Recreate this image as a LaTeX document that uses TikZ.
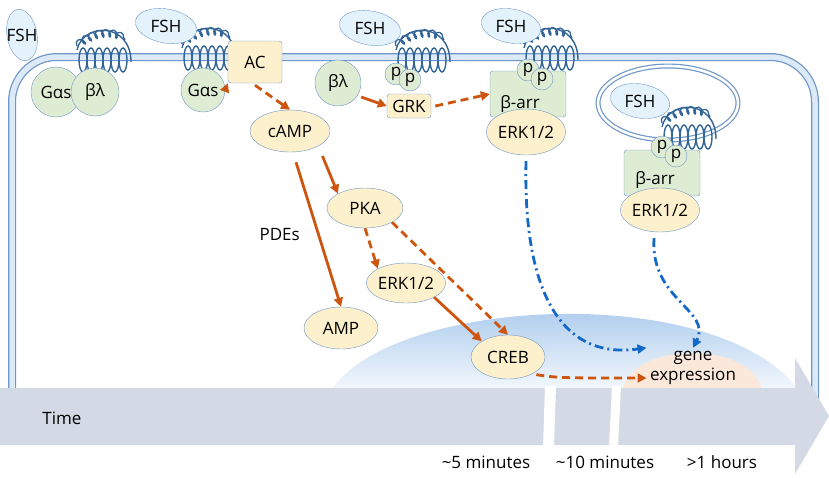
\documentclass[tikz,border=0pt]{standalone}
\usepackage{fontspec}
\setmainfont{Open Sans}
\usetikzlibrary{arrows.meta,decorations.pathmorphing,shapes.geometric}
\definecolor{memdark}{RGB}{110,150,200}
\definecolor{memlight}{RGB}{220,234,248}
\definecolor{recblue}{RGB}{50,100,150}
\definecolor{molfill}{RGB}{253,240,204}
\definecolor{grfill}{RGB}{222,236,212}
\definecolor{fshfill}{RGB}{228,242,252}
\definecolor{orng}{RGB}{205,85,15}
\definecolor{dblue}{RGB}{20,105,200}
\definecolor{timegray}{RGB}{211,218,229}
\definecolor{nucblue}{RGB}{150,190,232}
\definecolor{peach}{RGB}{252,232,218}

\begin{document}
\begin{tikzpicture}[x=1pt, y=-1pt,
    font=\fontsize{17}{20}\selectfont,
    mol/.style={ellipse, draw=memdark, fill=molfill, inner sep=0pt},
    box/.style={rectangle, rounded corners=3pt, draw=memdark, inner sep=0pt},
    grn/.style={circle, draw=memdark, fill=grfill, inner sep=0pt},
    fsh/.style={ellipse, draw=memdark, fill=fshfill, inner sep=0pt},
    arrow/.style={-{Triangle[length=9pt,width=9pt]}, orng, line width=2.8pt},
    darrow/.style={arrow, dash pattern=on 8pt off 5pt},
    barrow/.style={-{Triangle[length=9pt,width=9pt]}, dblue, line width=2.8pt, dash pattern=on 9pt off 4pt on 2pt off 4pt},
    receptor/.pic={
        \foreach \i in {0,...,5}
            \draw[recblue, line width=1.4pt] (-20+8*\i,12) ellipse [x radius=4, y radius=12];
        \draw[recblue, line width=1.4pt] (-26,2) .. controls (-20,-26) and (28,-26) .. (28,14);
        \draw[recblue, line width=1.3pt, decorate, decoration={coil, aspect=0.6, segment length=7pt, amplitude=4pt}] (-26,-2) .. controls (-10,-16) and (10,-18) .. (22,-8);
    }
]
\useasboundingbox (0,0) rectangle (829,477);

% cell membrane
\draw[memdark, line width=8pt, rounded corners=45pt] (12,400) -- (12,57) -- (815,57) -- (815,400);
\draw[memlight, line width=5.5pt, rounded corners=45pt] (12,400) -- (12,57) -- (815,57) -- (815,400);

% nucleus
\shade[top color=nucblue, middle color=nucblue!85, bottom color=nucblue!10] (330,392) .. controls (390,296) and (720,280) .. (800,392) -- cycle;
\fill[peach] (622,392) .. controls (630,340) and (755,340) .. (762,392) -- cycle;
\node (gene) at (693,368) [align=center] {gene\\expression};

% time arrow
\fill[timegray] (0,388) -- (795,388) -- (795,358) -- (829,416) -- (795,474) -- (795,445) -- (0,445) -- cycle;
\fill[white] (545,386) -- (556,386) -- (554,447) -- (543,447) -- cycle;
\fill[white] (612,386) -- (621,386) -- (618,447) -- (609,447) -- cycle;
\node (time) at (62,418) {Time};
\node (t5) at (486,462) {\textasciitilde5 minutes};
\node (t10) at (605,462) {\textasciitilde10 minutes};
\node (t1h) at (722,462) {>1 hours};

% receptors
\pic at (103,48) {receptor};
\pic at (208,46) {receptor};
\pic at (422,48) {receptor};
\pic at (550,46) {receptor};

% vesicle
\draw[memdark, line width=5pt] (668,103) ellipse [x radius=70, y radius=37];
\draw[white, line width=2.6pt] (668,103) ellipse [x radius=70, y radius=37];
\pic at (688,125) {receptor};

% ligands
\node[fsh, minimum width=30pt, minimum height=52pt, rotate=10] (fsh1) at (22,35) {};
\node at (fsh1) {FSH};
\node[fsh, minimum width=62pt, minimum height=34pt, rotate=-10] (fsh2) at (166,26) {};
\node at (fsh2) {FSH};
\node[fsh, minimum width=62pt, minimum height=34pt, rotate=-10] (fsh3) at (370,28) {};
\node at (fsh3) {FSH};
\node[fsh, minimum width=60pt, minimum height=34pt, rotate=-10] (fsh4) at (511,26) {};
\node at (fsh4) {FSH};
\node[fsh, minimum width=60pt, minimum height=34pt, rotate=-10] (fsh5) at (640,101) {};
\node at (fsh5) {FSH};

% G proteins and effectors
\node[grn, minimum size=50pt] (gas1) at (56,92) {Gαs};
\node[grn, minimum size=48pt] (bl1) at (95,92) {βλ};
\node[grn, minimum size=44pt] (gas2) at (203,90) {Gαs};
\node[box, fill=molfill, minimum width=54pt, minimum height=42pt] (ac) at (255,62) {AC};
\node[grn, minimum size=46pt] (bl2) at (338,83) {βλ};
\node[box, fill=molfill, minimum width=44pt, minimum height=24pt] (grk) at (409,106) {GRK};
\node[grn, minimum size=22pt] (p1) at (396,74) {p};
\node[grn, minimum size=22pt] (p2) at (410,80) {p};
\node[box, fill=grfill, minimum width=76pt, minimum height=46pt] (barr1) at (528,94) {};
\node at (520,104) {β-arr};
\node[grn, minimum size=22pt] (p3) at (528,70) {p};
\node[grn, minimum size=22pt] (p4) at (542,79) {p};
\node[mol, minimum width=72pt, minimum height=46pt] (erk1) at (526,132) {ERK1/2};
\node[box, fill=grfill, minimum width=76pt, minimum height=46pt] (barr2) at (662,173) {};
\node at (655,180) {β-arr};
\node[grn, minimum size=22pt] (p5) at (662,147) {p};
\node[grn, minimum size=22pt] (p6) at (676,156) {p};
\node[mol, minimum width=74pt, minimum height=44pt] (erk2) at (660,210) {ERK1/2};

% second messengers
\node[mol, minimum width=80pt, minimum height=42pt] (camp) at (290,131) {cAMP};
\node[mol, minimum width=76pt, minimum height=40pt] (pka) at (365,208) {PKA};
\node[mol, minimum width=72pt, minimum height=40pt] (erk3) at (406,283) {ERK1/2};
\node[mol, minimum width=74pt, minimum height=42pt] (amp) at (341,328) {AMP};
\node[mol, minimum width=74pt, minimum height=44pt] (creb) at (508,357) {CREB};

% signalling
\draw[arrow, shorten <=-3pt] (gas2.east) -- (ac.south west);
\draw[darrow] (ac.south) ++(0,2) -- (camp.north);
\draw[arrow] (camp.south east) ++(4,10) -- (pka.north west);
\draw[arrow] (camp.south) ++(6,10) -- (amp.north) node[midway, left=14pt, black] {PDEs};
\draw[darrow] (pka.south) -- (erk3.north west);
\draw[darrow] (pka.south east) -- (creb.north);
\draw[arrow] (erk3.south east) -- (creb.north west);
\draw[arrow] (bl2.east) ++(0,14) -- (grk.west);
\draw[darrow] (grk.east) ++(4,0) -- (barr1.west);
\draw[darrow] (creb.south east) ++(2,2) .. controls (560,378) .. (gene.west |- 0,378);
\draw[barrow] (erk1.south) ++(0,6) .. controls (523,290) and (560,360) .. (gene.north west);
\draw[barrow] (erk2.south) ++(-6,6) .. controls (650,300) and (712,310) .. (gene.north);
\end{tikzpicture}
\end{document}
